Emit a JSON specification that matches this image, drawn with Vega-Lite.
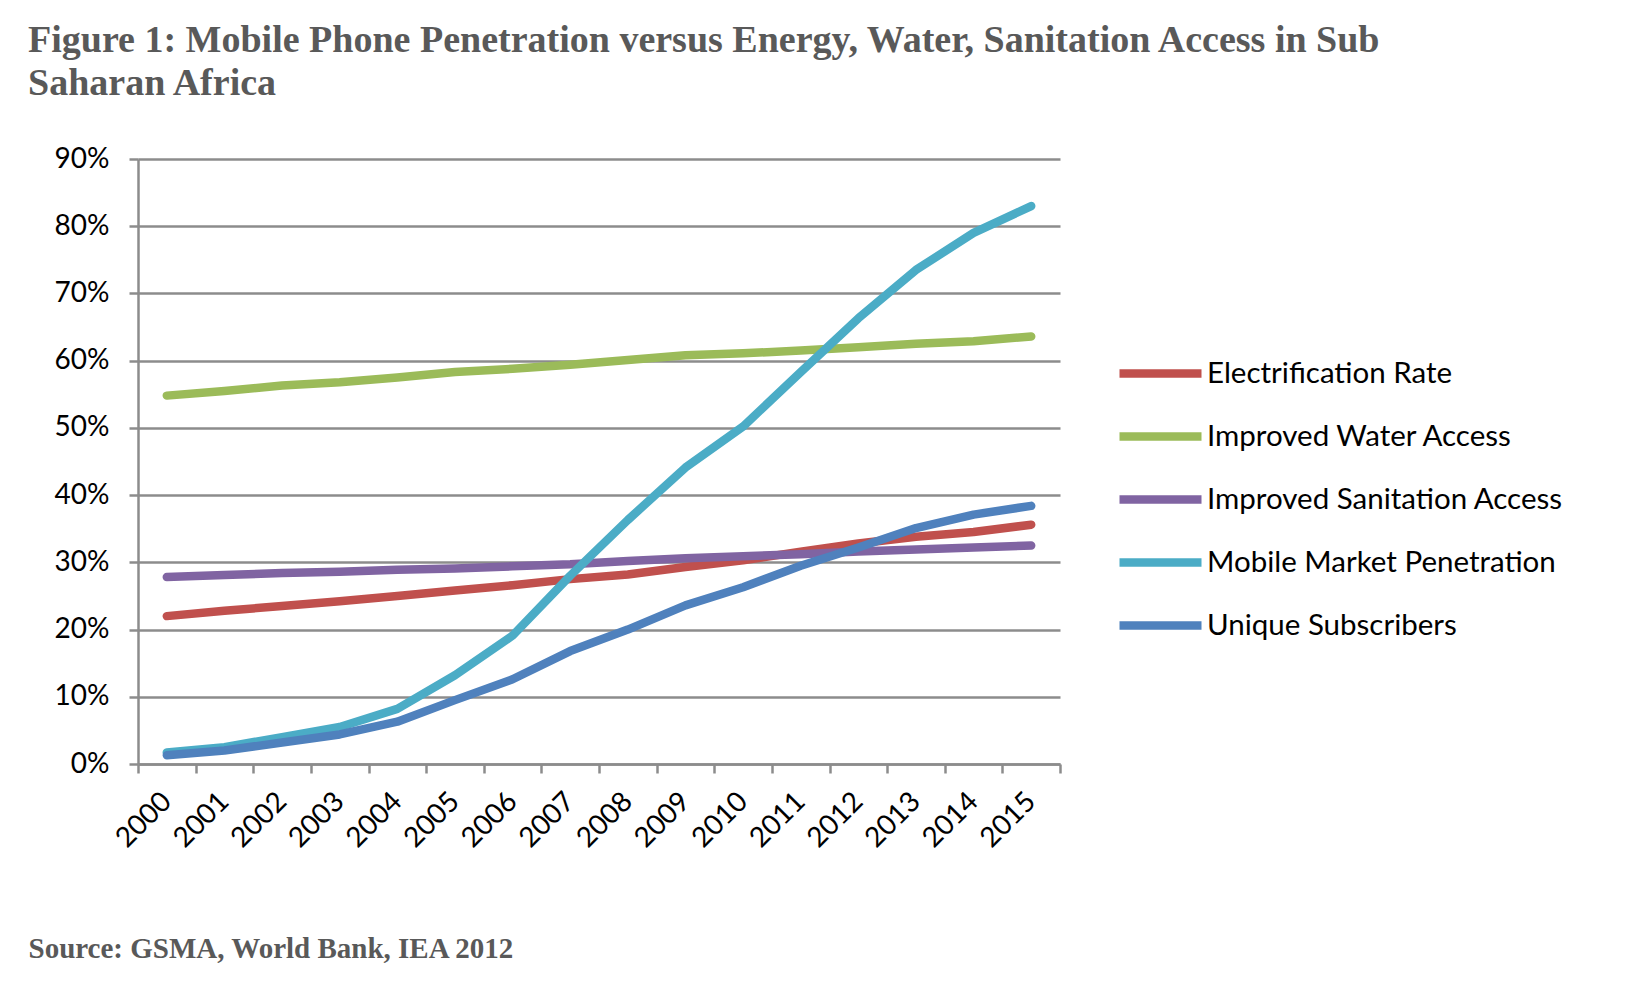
{
  "$schema": "https://vega.github.io/schema/vega-lite/v6.json",
  "autosize": {"type": "none"},
  "width": 922,
  "height": 605,
  "padding": {"left": 138, "top": 159, "right": 574, "bottom": 220},
  "background": "white",
  "title": {
    "text": ["Figure 1: Mobile Phone Penetration versus Energy, Water, Sanitation Access in Sub", "Saharan Africa"],
    "anchor": "start",
    "frame": "group",
    "limit": 1600,
    "font": "Liberation Serif",
    "fontSize": 38,
    "fontWeight": "bold",
    "color": "#595959",
    "lineHeight": 43,
    "baseline": "alphabetic",
    "offset": 0,
    "dx": -110,
    "dy": -12
  },
  "data": {
    "values": [
      {"year": "2000", "series": "Electrification Rate", "value": 0.220},
      {"year": "2001", "series": "Electrification Rate", "value": 0.228},
      {"year": "2002", "series": "Electrification Rate", "value": 0.235},
      {"year": "2003", "series": "Electrification Rate", "value": 0.242},
      {"year": "2004", "series": "Electrification Rate", "value": 0.250},
      {"year": "2005", "series": "Electrification Rate", "value": 0.258},
      {"year": "2006", "series": "Electrification Rate", "value": 0.266},
      {"year": "2007", "series": "Electrification Rate", "value": 0.275},
      {"year": "2008", "series": "Electrification Rate", "value": 0.282},
      {"year": "2009", "series": "Electrification Rate", "value": 0.293},
      {"year": "2010", "series": "Electrification Rate", "value": 0.303},
      {"year": "2011", "series": "Electrification Rate", "value": 0.316},
      {"year": "2012", "series": "Electrification Rate", "value": 0.328},
      {"year": "2013", "series": "Electrification Rate", "value": 0.338},
      {"year": "2014", "series": "Electrification Rate", "value": 0.345},
      {"year": "2015", "series": "Electrification Rate", "value": 0.356},
      {"year": "2000", "series": "Improved Water Access", "value": 0.548},
      {"year": "2001", "series": "Improved Water Access", "value": 0.555},
      {"year": "2002", "series": "Improved Water Access", "value": 0.563},
      {"year": "2003", "series": "Improved Water Access", "value": 0.568},
      {"year": "2004", "series": "Improved Water Access", "value": 0.575},
      {"year": "2005", "series": "Improved Water Access", "value": 0.583},
      {"year": "2006", "series": "Improved Water Access", "value": 0.588},
      {"year": "2007", "series": "Improved Water Access", "value": 0.594},
      {"year": "2008", "series": "Improved Water Access", "value": 0.601},
      {"year": "2009", "series": "Improved Water Access", "value": 0.608},
      {"year": "2010", "series": "Improved Water Access", "value": 0.611},
      {"year": "2011", "series": "Improved Water Access", "value": 0.615},
      {"year": "2012", "series": "Improved Water Access", "value": 0.620},
      {"year": "2013", "series": "Improved Water Access", "value": 0.625},
      {"year": "2014", "series": "Improved Water Access", "value": 0.629},
      {"year": "2015", "series": "Improved Water Access", "value": 0.636},
      {"year": "2000", "series": "Improved Sanitation Access", "value": 0.278},
      {"year": "2001", "series": "Improved Sanitation Access", "value": 0.281},
      {"year": "2002", "series": "Improved Sanitation Access", "value": 0.284},
      {"year": "2003", "series": "Improved Sanitation Access", "value": 0.286},
      {"year": "2004", "series": "Improved Sanitation Access", "value": 0.289},
      {"year": "2005", "series": "Improved Sanitation Access", "value": 0.291},
      {"year": "2006", "series": "Improved Sanitation Access", "value": 0.294},
      {"year": "2007", "series": "Improved Sanitation Access", "value": 0.297},
      {"year": "2008", "series": "Improved Sanitation Access", "value": 0.302},
      {"year": "2009", "series": "Improved Sanitation Access", "value": 0.306},
      {"year": "2010", "series": "Improved Sanitation Access", "value": 0.309},
      {"year": "2011", "series": "Improved Sanitation Access", "value": 0.312},
      {"year": "2012", "series": "Improved Sanitation Access", "value": 0.316},
      {"year": "2013", "series": "Improved Sanitation Access", "value": 0.319},
      {"year": "2014", "series": "Improved Sanitation Access", "value": 0.322},
      {"year": "2015", "series": "Improved Sanitation Access", "value": 0.325},
      {"year": "2000", "series": "Mobile Market Penetration", "value": 0.017},
      {"year": "2001", "series": "Mobile Market Penetration", "value": 0.025},
      {"year": "2002", "series": "Mobile Market Penetration", "value": 0.040},
      {"year": "2003", "series": "Mobile Market Penetration", "value": 0.055},
      {"year": "2004", "series": "Mobile Market Penetration", "value": 0.082},
      {"year": "2005", "series": "Mobile Market Penetration", "value": 0.132},
      {"year": "2006", "series": "Mobile Market Penetration", "value": 0.191},
      {"year": "2007", "series": "Mobile Market Penetration", "value": 0.280},
      {"year": "2008", "series": "Mobile Market Penetration", "value": 0.363},
      {"year": "2009", "series": "Mobile Market Penetration", "value": 0.441},
      {"year": "2010", "series": "Mobile Market Penetration", "value": 0.502},
      {"year": "2011", "series": "Mobile Market Penetration", "value": 0.583},
      {"year": "2012", "series": "Mobile Market Penetration", "value": 0.663},
      {"year": "2013", "series": "Mobile Market Penetration", "value": 0.735},
      {"year": "2014", "series": "Mobile Market Penetration", "value": 0.790},
      {"year": "2015", "series": "Mobile Market Penetration", "value": 0.830},
      {"year": "2000", "series": "Unique Subscribers", "value": 0.013},
      {"year": "2001", "series": "Unique Subscribers", "value": 0.020},
      {"year": "2002", "series": "Unique Subscribers", "value": 0.032},
      {"year": "2003", "series": "Unique Subscribers", "value": 0.044},
      {"year": "2004", "series": "Unique Subscribers", "value": 0.063},
      {"year": "2005", "series": "Unique Subscribers", "value": 0.095},
      {"year": "2006", "series": "Unique Subscribers", "value": 0.126},
      {"year": "2007", "series": "Unique Subscribers", "value": 0.168},
      {"year": "2008", "series": "Unique Subscribers", "value": 0.200},
      {"year": "2009", "series": "Unique Subscribers", "value": 0.236},
      {"year": "2010", "series": "Unique Subscribers", "value": 0.263},
      {"year": "2011", "series": "Unique Subscribers", "value": 0.295},
      {"year": "2012", "series": "Unique Subscribers", "value": 0.322},
      {"year": "2013", "series": "Unique Subscribers", "value": 0.351},
      {"year": "2014", "series": "Unique Subscribers", "value": 0.371},
      {"year": "2015", "series": "Unique Subscribers", "value": 0.384}
    ]
  },
  "mark": {"type": "line", "strokeWidth": 8.5, "strokeCap": "round", "strokeJoin": "round"},
  "encoding": {
    "x": {
      "field": "year",
      "type": "ordinal",
      "bandPosition": 0.5,
      "scale": {"type": "band", "paddingInner": 0, "paddingOuter": 0},
      "axis": {
        "title": "Source: GSMA, World Bank, IEA 2012",
        "titleFont": "Liberation Serif",
        "titleFontSize": 29,
        "titleFontWeight": "bold",
        "titleColor": "#595959",
        "titleAnchor": "start",
        "titleAlign": "left",
        "titleBaseline": "alphabetic",
        "titleX": -110,
        "titleY": 193,
        "tickBand": "extent",
        "labelAngle": -45,
        "labelAlign": "right",
        "labelBaseline": "middle",
        "labelPadding": 24,
        "labelFont": "Lato",
        "labelFontSize": 28,
        "labelColor": "black",
        "tickSize": 9,
        "tickWidth": 2.5,
        "tickColor": "#8c8c8c",
        "domainColor": "#8c8c8c",
        "domainWidth": 2.5,
        "grid": false
      }
    },
    "y": {
      "field": "value",
      "type": "quantitative",
      "scale": {"domain": [0, 0.9], "nice": false},
      "axis": {
        "title": null,
        "format": ".0%",
        "values": [0, 0.1, 0.2, 0.3, 0.4, 0.5, 0.6, 0.7, 0.8, 0.9],
        "labelFont": "Lato",
        "labelFontSize": 28,
        "labelColor": "black",
        "labelPadding": 20,
        "tickSize": 9,
        "tickWidth": 2.5,
        "tickColor": "#8c8c8c",
        "domainColor": "#8c8c8c",
        "domainWidth": 2.5,
        "grid": true,
        "gridColor": "#8c8c8c",
        "gridWidth": 2.5
      }
    },
    "color": {
      "field": "series",
      "type": "nominal",
      "scale": {
        "domain": ["Electrification Rate", "Improved Water Access", "Improved Sanitation Access", "Mobile Market Penetration", "Unique Subscribers"],
        "range": ["#C0504D", "#9BBB59", "#8064A2", "#4BACC6", "#4F81BD"]
      },
      "legend": {
        "title": null,
        "orient": "none",
        "legendX": 977,
        "legendY": 169,
        "symbolType": "stroke",
        "symbolSize": 6724,
        "symbolStrokeWidth": 8.5,
        "labelFont": "Lato",
        "labelFontSize": 29.5,
        "labelColor": "black",
        "labelOffset": 1,
        "rowPadding": -21,
        "labelLimit": 500
      }
    }
  },
  "config": {
    "view": {"stroke": null}
  }
}
